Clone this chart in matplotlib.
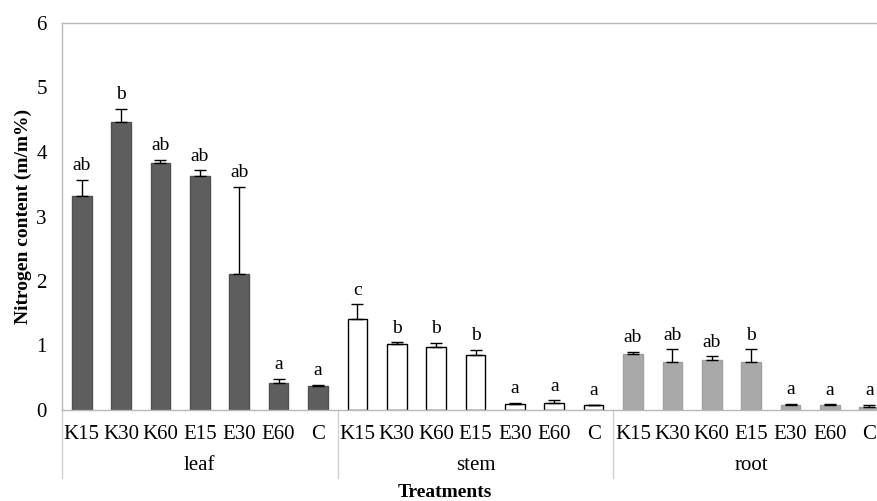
import numpy as np
import matplotlib
matplotlib.use("Agg")
import matplotlib.pyplot as plt
import matplotlib.transforms as mtransforms

plt.rcParams["font.family"] = ["Liberation Serif", "DejaVu Serif"]

treatments = ["K15", "K30", "K60", "E15", "E30", "E60", "C"]
organs = ["leaf", "stem", "root"]

leaf_vals = [3.32, 4.46, 3.83, 3.63, 2.11, 0.42, 0.37]
leaf_err = [0.25, 0.21, 0.05, 0.09, 1.35, 0.06, 0.02]
leaf_sig = ["ab", "b", "ab", "ab", "ab", "a", "a"]

stem_vals = [1.41, 1.02, 0.98, 0.85, 0.09, 0.11, 0.08]
stem_err = [0.23, 0.03, 0.06, 0.08, 0.02, 0.04, 0.0]
stem_sig = ["c", "b", "b", "b", "a", "a", "a"]

root_vals = [0.87, 0.75, 0.78, 0.75, 0.07, 0.08, 0.05]
root_err = [0.03, 0.19, 0.05, 0.19, 0.03, 0.01, 0.03]
root_sig = ["ab", "ab", "ab", "b", "a", "a", "a"]

colors = {"leaf": "#5e5e5e", "stem": "#ffffff", "root": "#a9a9a9"}
edges = {"leaf": "#505050", "stem": "#000000", "root": "#a0a0a0"}

fig = plt.figure(figsize=(8.77, 5.01), dpi=100)
# axes runs a little past the right edge, as in the cropped original
ax = fig.add_axes([62 / 877, 91 / 501, 827 / 877, 387 / 501])

groups = [(leaf_vals, leaf_err, leaf_sig), (stem_vals, stem_err, stem_sig), (root_vals, root_err, root_sig)]
n = len(treatments)
for g, (vals, errs, sigs) in enumerate(groups):
    organ = organs[g]
    x = np.arange(n) + g * n
    ax.bar(x, vals, width=0.5, color=colors[organ], edgecolor=edges[organ], linewidth=1, zorder=2)
    lower = np.zeros(n)
    ax.errorbar(x, vals, yerr=[lower, errs], fmt="none", ecolor="black",
                elinewidth=1, capsize=4, capthick=1, zorder=3)
    for xi, v, e, s in zip(x, vals, errs, sigs):
        ax.annotate(s, (xi, v + e), xytext=(0, 4), textcoords="offset points",
                    ha="center", va="bottom", fontsize=14)

ax.set_xlim(-0.5, 3 * n - 0.5)
ax.set_ylim(0, 6)
ax.set_yticks(range(0, 7))
ax.tick_params(axis="y", length=0, labelsize=15, pad=11)
ax.set_xticks(range(3 * n))
ax.set_xticklabels(treatments * 3, fontsize=15)
ax.tick_params(axis="x", length=0, pad=11)

for side in ["top", "bottom", "left"]:
    ax.spines[side].set_color("#b8b8b8")
    ax.spines[side].set_linewidth(1)
ax.spines["right"].set_visible(False)

# group separator lines and organ labels below the tick labels
trans = mtransforms.blended_transform_factory(ax.transData, ax.transAxes)
for g in range(4):
    xb = g * n - 0.5
    ax.plot([xb, xb], [0, -0.176], transform=trans, color="#d0d0d0", lw=1, clip_on=False)
for g, organ in enumerate(organs):
    ax.text(g * n + (n - 1) / 2, -0.143, organ, transform=trans, ha="center", va="center", fontsize=15)

ax.set_ylabel("Nitrogen content (m/m%)", fontsize=14, fontweight="bold", labelpad=3)
fig.text(445 / 877, 0.017, "Treatments", ha="center", va="center",
         fontsize=14, fontweight="bold")

fig.savefig("out.png", dpi=100)
